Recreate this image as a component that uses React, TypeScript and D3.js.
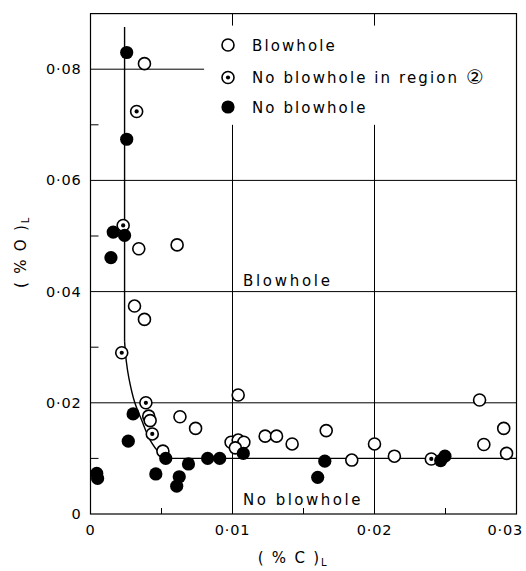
import React from "react";
import * as d3 from "d3";

// Blowhole (open circles)
const blowholeC = [0.0038, 0.0034, 0.0061, 0.0031, 0.0038, 0.0104, 0.0041, 0.0042, 0.0063, 0.0074, 0.0051, 0.0099, 0.0104, 0.0108, 0.0102, 0.0123, 0.0131, 0.0142, 0.0166, 0.0184, 0.02, 0.0214, 0.0274, 0.0277, 0.0291, 0.0293];
const blowholeO = [0.081, 0.0477, 0.0484, 0.0374, 0.035, 0.0214, 0.0176, 0.0168, 0.0175, 0.0154, 0.0113, 0.0129, 0.0133, 0.0129, 0.0119, 0.014, 0.014, 0.0126, 0.015, 0.0097, 0.0126, 0.0104, 0.0205, 0.0125, 0.0154, 0.0109];

// No blowhole in region 2 (dotted circles)
const regionC = [0.00325, 0.0023, 0.0022, 0.0039, 0.00435, 0.024];
const regionO = [0.0724, 0.0519, 0.029, 0.02, 0.0144, 0.0099];

// No blowhole (filled)
const noBlowC = [0.00255, 0.00255, 0.0016, 0.0024, 0.00144, 0.003, 0.00266, 0.00044, 0.0005, 0.0046, 0.0053, 0.00625, 0.00607, 0.0069, 0.00825, 0.0091, 0.01076, 0.0165, 0.016, 0.02466, 0.02496];
const noBlowO = [0.083, 0.0674, 0.0507, 0.0501, 0.0461, 0.018, 0.0131, 0.0073, 0.0064, 0.0072, 0.01, 0.0067, 0.005, 0.009, 0.01, 0.01, 0.0109, 0.0095, 0.0066, 0.0096, 0.0104];

// boundary line between the two regions: straight, curved, straight
const boundaryC = [0.0024, 0.0024, 0.00252, 0.0027, 0.0031, 0.0036, 0.0042, 0.0048, 0.0056, 0.03];
const boundaryO = [0.0876, 0.031, 0.0275, 0.0245, 0.0202, 0.0169, 0.0133, 0.0112, 0.01, 0.01];

const xTicks = [0, 0.01, 0.02, 0.03];
const xTickLabels = ["0", "0·01", "0·02", "0·03"];
const xMinor = [0.005, 0.015, 0.025];
const yTicks = [0, 0.02, 0.04, 0.06, 0.08];
const yTickLabels = ["0", "0·02", "0·04", "0·06", "0·08"];
const yMinor = [0.01, 0.03, 0.05, 0.07];
const hGrid = [0.02, 0.04, 0.06];
const vGrid = [0.01, 0.02];

const legendLabels = ["Blowhole", "No blowhole in region ", "No blowhole"];

const width = 526;
const height = 571;
const marginLeft = 90.5;
const marginRight = 9.5;
const marginTop = 13.6;
const marginBottom = 57;

const font = "'DejaVu Sans', sans-serif";

export default function App() {
  const x = d3.scaleLinear().domain([0, 0.03]).range([marginLeft, width - marginRight]);
  const y = d3.scaleLinear().domain([0, 0.09]).range([height - marginBottom, marginTop]);

  const idx = boundaryC.map((_, i) => i);
  const straight = d3
    .line<number>()
    .x((i) => x(boundaryC[i]))
    .y((i) => y(boundaryO[i]));
  const curved = d3
    .line<number>()
    .x((i) => x(boundaryC[i]))
    .y((i) => y(boundaryO[i]))
    .curve(d3.curveCatmullRom.alpha(0.5));
  const last = idx.length - 1;

  const r = 6;
  const sw = 1.6;

  const marker = (kind: number, cx: number, cy: number, key: string) => {
    if (kind === 0)
      return <circle key={key} cx={cx} cy={cy} r={r} fill="#fff" stroke="#000" strokeWidth={sw} />;
    if (kind === 1)
      return (
        <g key={key}>
          <circle cx={cx} cy={cy} r={r} fill="#fff" stroke="#000" strokeWidth={sw} />
          <circle cx={cx} cy={cy} r={2.1} fill="#000" />
        </g>
      );
    return <circle key={key} cx={cx} cy={cy} r={r + 0.6} fill="#000" />;
  };

  const x0 = x(0);
  const x1 = x(0.03);
  const y0 = y(0);
  const y1 = y(0.09);

  return (
    <svg
      width={width}
      height={height}
      viewBox={`0 0 ${width} ${height}`}
      style={{ position: "absolute", left: 0, top: 0, background: "#fff", fontFamily: font }}
    >
      {/* frame */}
      <rect x={x0} y={y1} width={x1 - x0} height={y0 - y1} fill="none" stroke="#000" strokeWidth={1.2} />

      {/* grid */}
      {hGrid.map((v) => (
        <line key={"h" + v} x1={x0} x2={x1} y1={y(v)} y2={y(v)} stroke="#000" strokeWidth={1} />
      ))}
      <line x1={x0} x2={x(0.008)} y1={y(0.08)} y2={y(0.08)} stroke="#000" strokeWidth={1} />
      {vGrid.map((v) => (
        <g key={"v" + v}>
          <line x1={x(v)} x2={x(v)} y1={y0} y2={y(0.07)} stroke="#000" strokeWidth={1} />
          <line x1={x(v)} x2={x(v)} y1={y1} y2={y1 + 12} stroke="#000" strokeWidth={1} />
        </g>
      ))}

      {/* ticks */}
      {yMinor.map((v) => (
        <line key={"ym" + v} x1={x0} x2={x0 + 8} y1={y(v)} y2={y(v)} stroke="#000" strokeWidth={1} />
      ))}
      {xMinor.map((v) => (
        <line key={"xm" + v} x1={x(v)} x2={x(v)} y1={y0} y2={y0 - 6} stroke="#000" strokeWidth={1} />
      ))}

      {/* boundary */}
      <path d={straight(idx.slice(0, 2)) ?? ""} fill="none" stroke="#000" strokeWidth={1.4} />
      <path d={curved(idx.slice(1, last)) ?? ""} fill="none" stroke="#000" strokeWidth={1.4} />
      <path d={straight(idx.slice(last - 1)) ?? ""} fill="none" stroke="#000" strokeWidth={1.4} />

      {/* tick labels */}
      {xTicks.map((v, i) => (
        <text
          key={"xt" + v}
          x={i === xTicks.length - 1 ? width - 3 : x(v)}
          y={535}
          textAnchor={i === xTicks.length - 1 ? "end" : "middle"}
          fontSize={14.5}
          letterSpacing={0.8}
        >
          {xTickLabels[i]}
        </text>
      ))}
      {yTicks.map((v, i) => (
        <text key={"yt" + v} x={x0 - 9} y={y(v) + 5} textAnchor="end" fontSize={14.5} letterSpacing={0.8}>
          {yTickLabels[i]}
        </text>
      ))}

      {/* axis titles */}
      <text x={293} y={563} textAnchor="middle" fontSize={15} letterSpacing={1.8}>
        ( % C )<tspan fontSize={10} dy={3}>L</tspan>
      </text>
      <text transform="translate(26,252) rotate(-90)" textAnchor="middle" fontSize={15} letterSpacing={1.8}>
        ( % O )<tspan fontSize={10} dy={3}>L</tspan>
      </text>

      {/* region labels */}
      <text x={243} y={286} fontSize={15} letterSpacing={2.7}>Blowhole</text>
      <text x={243} y={505} fontSize={15} letterSpacing={2.5}>No blowhole</text>

      {/* legend */}
      {legendLabels.map((t, i) => {
        const cy = [45, 77.5, 107][i];
        return (
          <g key={"lg" + i}>
            <rect x={218} y={cy - 10} width={i === 1 ? 285 : 140} height={22} fill="#fff" />
            {marker(i, 228, cy, "lm" + i)}
            <text x={252} y={cy + 5.5} fontSize={15} letterSpacing={2.1}>
              {t}
              {i === 1 && (
                <tspan fontSize={20} dy={1} letterSpacing={0}>
                  {"\u2461"}
                </tspan>
              )}
            </text>
          </g>
        );
      })}

      {/* points */}
      {blowholeC.map((c, i) => marker(0, x(c), y(blowholeO[i]), "b" + i))}
      {regionC.map((c, i) => marker(1, x(c), y(regionO[i]), "r" + i))}
      {noBlowC.map((c, i) => marker(2, x(c), y(noBlowO[i]), "n" + i))}
    </svg>
  );
}
